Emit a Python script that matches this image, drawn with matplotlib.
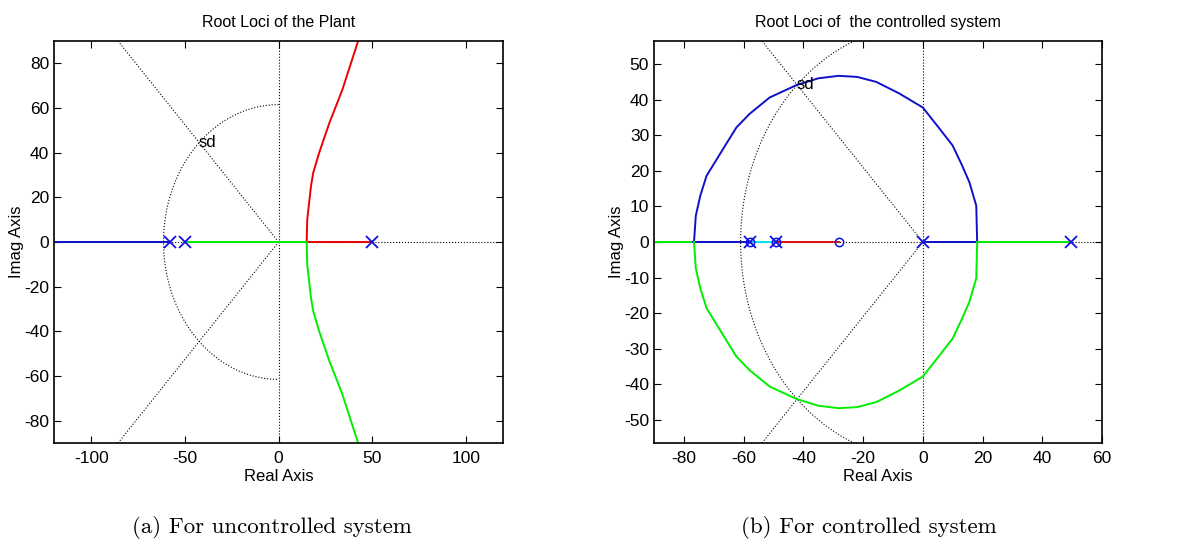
import numpy as np
import matplotlib
matplotlib.use("Agg")
import matplotlib.pyplot as plt

plt.rcParams['font.family'] = ['Liberation Sans', 'DejaVu Sans']
plt.rcParams['axes.unicode_minus'] = False

# ---- (a) uncontrolled plant ----
poles_a = [-58, -50, 50]
zeta_a, wn_a = 0.69, 61.5
sd_a = (-42.5, 44.5)
# real-axis segments (x0, x1, colour)
real_a = [(-120, -58, '#1010c8'), (-50, 15, '#00ee00'), (15, 50, '#ee0000')]
# upper branch (red), mirrored lower branch (green)
branch_a_x = [15, 15.3, 17.3, 18.5, 21.7, 27, 34, 42.5]
branch_a_y = [0, 10, 25, 31, 40, 53, 68, 90]

# ---- (b) controlled system ----
poles_b = [-58, -49, 0, 49.5]
zeros_b = [-58, -49, -28]
zeta_b, wn_b = 0.69, 61.0
sd_b = (-42.3, 44.4)
real_b = [(-90, -77, '#00ee00'), (-77, -58, '#1010c8'), (-58, -49, '#00e5ee'),
          (-49, -28, '#dd1010'), (0, 18.2, '#1010c8'), (18.2, 49.5, '#00ee00')]
# upper arc (blue), mirrored lower arc (green)
arc_b_x = [-76.6, -76.0, -74.5, -72.4, -66.9, -62.4, -58, -51.3, -42.3, -35, -28.2,
           -22, -15.6, -8, 0, 5, 10, 13, 15.6, 17.9, 18.2]
arc_b_y = [0, 7.4, 13, 18.6, 26.1, 32.2, 36, 40.6, 44.1, 46.0, 46.7,
           46.4, 45.0, 41.8, 37.8, 32.5, 27.1, 21.8, 16.8, 10.2, 0]

fig = plt.figure(figsize=(11.79, 5.39), dpi=100)
ax1 = fig.add_axes([0.0458, 0.178, 0.381, 0.746])
ax2 = fig.add_axes([0.5547, 0.178, 0.380, 0.746])


def sgrid(ax, zeta, wn):
    grid_kw = dict(color='k', linestyle=':', linewidth=0.8, zorder=1)
    ax.axhline(0, **grid_kw)
    ax.axvline(0, **grid_kw)
    s = np.sqrt(1 - zeta ** 2)
    ax.plot([0, -500 * zeta], [0, 500 * s], **grid_kw)
    ax.plot([0, -500 * zeta], [0, -500 * s], **grid_kw)
    t = np.linspace(np.pi / 2, 3 * np.pi / 2, 200)
    ax.plot(wn * np.cos(t), wn * np.sin(t), **grid_kw)


def style(ax, title, xlim, ylim, xticks, yticks):
    ax.set_xlim(xlim)
    ax.set_ylim(ylim)
    ax.set_xticks(xticks)
    ax.set_yticks(yticks)
    ax.tick_params(direction='in', top=True, right=True, length=5,
                   labelsize=12.5)
    ax.tick_params(axis='x', pad=6)
    ax.tick_params(axis='y', pad=3.5)
    for sp in ax.spines.values():
        sp.set_linewidth(1.2)
    ax.set_title(title, fontsize=11.5, pad=10)
    ax.set_xlabel('Real Axis', fontsize=12, labelpad=2)
    ax.set_ylabel('Imag Axis', fontsize=12, labelpad=0)


# plot (a)
sgrid(ax1, zeta_a, wn_a)
for x0, x1, c in real_a:
    ax1.plot([x0, x1], [0, 0], color=c, lw=1.4, zorder=2)
ax1.plot(branch_a_x, branch_a_y, color='#ee0000', lw=1.4, zorder=2)
ax1.plot(branch_a_x, [-v for v in branch_a_y], color='#00ee00', lw=1.4, zorder=2)
ax1.plot(poles_a, [0] * len(poles_a), 'x', color='#1010e0', ms=8, mew=1.3, zorder=3)
ax1.text(sd_a[0], sd_a[1], 'sd', fontsize=12, va='center', ha='left')
style(ax1, 'Root Loci of the Plant', (-120, 120), (-90, 90),
      [-100, -50, 0, 50, 100], range(-80, 81, 20))

# plot (b)
sgrid(ax2, zeta_b, wn_b)
for x0, x1, c in real_b:
    ax2.plot([x0, x1], [0, 0], color=c, lw=1.4, zorder=2)
ax2.plot(arc_b_x, arc_b_y, color='#1010c8', lw=1.4, zorder=2)
ax2.plot(arc_b_x, [-v for v in arc_b_y], color='#00ee00', lw=1.4, zorder=2)
ax2.plot(poles_b, [0] * len(poles_b), 'x', color='#1010e0', ms=8, mew=1.3, zorder=3)
ax2.plot(zeros_b, [0] * len(zeros_b), 'o', mfc='none', mec='#1010e0', ms=6, mew=1.1, zorder=3)
ax2.text(sd_b[0], sd_b[1], 'sd', fontsize=12, va='center', ha='left')
style(ax2, 'Root Loci of  the controlled system', (-90, 60), (-56.5, 56.5),
      range(-80, 61, 20), range(-50, 51, 10))

fig.text(0.231, 0.012, '(a) For uncontrolled system', family='cmr10',
         fontsize=16.5, ha='center', va='baseline')
fig.text(0.7366, 0.012, '(b) For controlled system', family='cmr10',
         fontsize=16.5, ha='center', va='baseline')

fig.savefig('out.png', dpi=100)
